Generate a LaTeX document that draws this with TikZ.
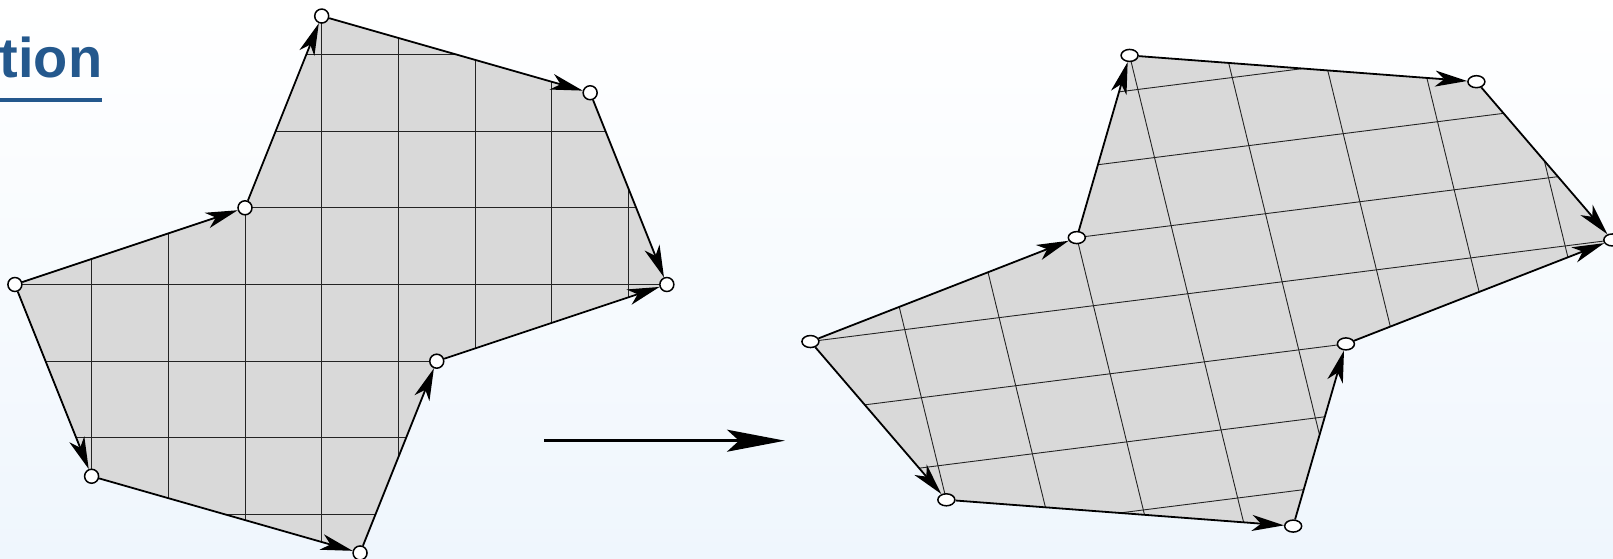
\documentclass[tikz,border=0pt]{standalone}
\usepackage{fontspec}
\setmainfont{Liberation Sans}
\usetikzlibrary{arrows.meta,shapes.geometric}
\definecolor{titleblue}{RGB}{36,88,141}
\definecolor{tilegray}{RGB}{217,217,217}
\definecolor{bgbottom}{RGB}{239,246,253}
\definecolor{gridcol}{RGB}{35,35,35}
\begin{document}
\begin{tikzpicture}[x=1pt,y=-1pt,
  edge/.style={line width=1.8pt, -{Stealth[length=32pt,width=16pt,inset=9pt]}},
  gridline/.style={line width=0.9pt, gridcol},
  vtx/.style={circle, draw, line width=1.5pt, fill=white, minimum size=14pt, inner sep=0pt},
  vtxr/.style={ellipse, draw, line width=1.5pt, fill=white, minimum width=17pt, minimum height=12pt, inner sep=0pt},
  bigarrow/.style={line width=2.6pt, -{Stealth[length=58pt,width=22pt,inset=12pt]}}
]
\useasboundingbox (0,0) rectangle (1613,559);
\shade[top color=white, bottom color=bgbottom] (0,0) rectangle (1613,559);

% title fragment
\node[anchor=base east, inner sep=0pt, text=titleblue,
      font=\fontsize{56}{60}\selectfont\bfseries] (title) at (102.5,77.3) {tion};
\coordinate (ulS) at (-5,99.8);
\coordinate (ulE) at (101.7,99.8);
\draw[titleblue, line width=4pt] (ulS) -- (ulE);

% left tile
\begin{scope}[shift={(245pt,-207.8pt)}, x={(76.7pt,0pt)}, y={(0pt,76.7pt)}]
  \fill[tilegray] (-3,-1) -- (0,0) -- (1,2.5) -- (4.5,1.5) -- (5.5,-1) -- (2.5,-2) -- (1.5,-4.5) -- (-2,-3.5) -- cycle;
  \begin{scope}
    \clip (-3,-1) -- (0,0) -- (1,2.5) -- (4.5,1.5) -- (5.5,-1) -- (2.5,-2) -- (1.5,-4.5) -- (-2,-3.5) -- cycle;
    \foreach \i in {-2,...,5} \draw[gridline] (\i,-5) -- (\i,3);
    \foreach \j in {-4,...,2} \draw[gridline] (-4,\j) -- (6,\j);
  \end{scope}
  \node[vtx] (lA) at (-3,-1) {};
  \node[vtx] (lH) at (0,0) {};
  \node[vtx] (lG) at (1,2.5) {};
  \node[vtx] (lF) at (4.5,1.5) {};
  \node[vtx] (lE) at (5.5,-1) {};
  \node[vtx] (lD) at (2.5,-2) {};
  \node[vtx] (lC) at (1.5,-4.5) {};
  \node[vtx] (lB) at (-2,-3.5) {};
  \draw[edge] (lA) -- (lH);
  \draw[edge] (lH) -- (lG);
  \draw[edge] (lG) -- (lF);
  \draw[edge] (lF) -- (lE);
  \draw[edge] (lA) -- (lB);
  \draw[edge] (lB) -- (lC);
  \draw[edge] (lC) -- (lD);
  \draw[edge] (lD) -- (lE);
\end{scope}

% middle arrow
\coordinate (arrS) at (544,440.7);
\coordinate (arrE) at (785,440.7);
\draw[bigarrow] (arrS) -- (arrE);

% right tile (affine image)
\begin{scope}[shift={(1076.8pt,-237.6pt)}, x={(94.34pt,11.95pt)}, y={(-16.63pt,68.09pt)}]
  \fill[tilegray] (-3,-1) -- (0,0) -- (1,2.5) -- (4.5,1.5) -- (5.5,-1) -- (2.5,-2) -- (1.5,-4.5) -- (-2,-3.5) -- cycle;
  \begin{scope}
    \clip (-3,-1) -- (0,0) -- (1,2.5) -- (4.5,1.5) -- (5.5,-1) -- (2.5,-2) -- (1.5,-4.5) -- (-2,-3.5) -- cycle;
    \foreach \i in {-2,...,5} \draw[gridline] (\i,-5) -- (\i,3);
    \foreach \j in {-4,...,2} \draw[gridline] (-4,\j) -- (6,\j);
  \end{scope}
  \node[vtxr] (rA) at (-3,-1) {};
  \node[vtxr] (rH) at (0,0) {};
  \node[vtxr] (rG) at (1,2.5) {};
  \node[vtxr] (rF) at (4.5,1.5) {};
  \node[vtxr] (rE) at (5.5,-1) {};
  \node[vtxr] (rD) at (2.5,-2) {};
  \node[vtxr] (rC) at (1.5,-4.5) {};
  \node[vtxr] (rB) at (-2,-3.5) {};
  \draw[edge] (rA) -- (rH);
  \draw[edge] (rH) -- (rG);
  \draw[edge] (rG) -- (rF);
  \draw[edge] (rF) -- (rE);
  \draw[edge] (rA) -- (rB);
  \draw[edge] (rB) -- (rC);
  \draw[edge] (rC) -- (rD);
  \draw[edge] (rD) -- (rE);
\end{scope}
\end{tikzpicture}
\end{document}
